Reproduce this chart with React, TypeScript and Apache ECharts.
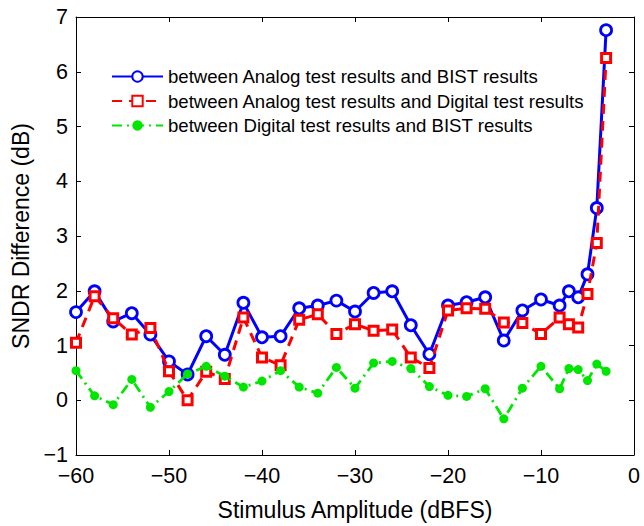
import React, { useEffect, useRef } from 'react';
import * as echarts from 'echarts';

const xValues = [-60, -58, -56, -54, -52, -50, -48, -46, -44, -42, -40, -38, -36, -34, -32, -30, -28, -26, -24, -22, -20, -18, -16, -14, -12, -10, -8, -7, -6, -5, -4, -3];
const analogVsBist = [1.61, 1.99, 1.44, 1.59, 1.20, 0.71, 0.47, 1.17, 0.83, 1.78, 1.15, 1.17, 1.68, 1.73, 1.82, 1.62, 1.96, 1.99, 1.37, 0.84, 1.73, 1.79, 1.88, 1.09, 1.64, 1.84, 1.73, 1.99, 1.88, 2.30, 3.51, 6.76];
const analogVsDigital = [1.05, 1.90, 1.50, 1.20, 1.32, 0.53, 0.00, 0.52, 0.39, 1.51, 0.78, 0.64, 1.47, 1.57, 1.21, 1.39, 1.27, 1.29, 0.78, 0.59, 1.64, 1.68, 1.67, 1.42, 1.41, 1.21, 1.51, 1.39, 1.33, 1.94, 2.87, 6.25];
const digitalVsBist = [0.54, 0.08, -0.08, 0.38, -0.13, 0.16, 0.48, 0.62, 0.44, 0.24, 0.35, 0.54, 0.24, 0.13, 0.60, 0.22, 0.68, 0.71, 0.58, 0.25, 0.09, 0.07, 0.21, -0.34, 0.22, 0.62, 0.21, 0.58, 0.56, 0.36, 0.66, 0.53];
const seriesNames = [
  'between Analog test results and BIST results',
  'between Analog test results and Digital test results',
  'between Digital test results and BIST results',
];
const xTitle = 'Stimulus Amplitude (dBFS)';
const yTitle = 'SNDR Difference (dB)';

const FONT = 'Liberation Sans, Arial, Helvetica, sans-serif';
const minus = (v: number) => String(v).replace('-', '\u2212');

export default function App() {
  const ref = useRef<HTMLDivElement>(null);
  useEffect(() => {
    if (!ref.current) return;
    const chart = echarts.init(ref.current, null, { renderer: 'svg' });
    const pair = (ys: number[]) => xValues.map((x, i) => [x, ys[i]]);
    const axisCommon = {
      axisLine: { show: true, onZero: false, lineStyle: { color: '#000', width: 1 } },
      axisTick: { show: true, inside: true, length: 5, lineStyle: { color: '#000' } },
      splitLine: { show: false },
    };
    chart.setOption({
      animation: false,
      backgroundColor: '#fff',
      grid: { left: 76, right: 10, top: 17, bottom: 69, show: false },
      legend: {
        orient: 'vertical',
        left: 111,
        top: 67,
        padding: 0,
        itemWidth: 51,
        itemHeight: 13,
        itemGap: 5.5,
        textStyle: { fontFamily: FONT, fontSize: 18.6, color: '#000' },
        data: seriesNames,
      },
      xAxis: [
        {
          type: 'value', min: -60, max: 0, interval: 10,
          ...axisCommon,
          axisLabel: { fontFamily: FONT, fontSize: 21.5, color: '#000', margin: 10, formatter: minus },
          name: xTitle, nameLocation: 'middle', nameGap: 43,
          nameTextStyle: { fontFamily: FONT, fontSize: 23, color: '#000' },
        },
        {
          type: 'value', min: -60, max: 0, interval: 10, position: 'top',
          ...axisCommon, axisLabel: { show: false },
        },
      ],
      yAxis: [
        {
          type: 'value', min: -1, max: 7, interval: 1,
          ...axisCommon,
          axisLabel: { fontFamily: FONT, fontSize: 21.5, color: '#000', margin: 8, formatter: minus },
          name: yTitle, nameLocation: 'middle', nameGap: 40,
          nameTextStyle: { fontFamily: FONT, fontSize: 23, color: '#000' },
        },
        {
          type: 'value', min: -1, max: 7, interval: 1, position: 'right',
          ...axisCommon, axisLabel: { show: false },
        },
      ],
      series: [
        {
          name: seriesNames[0], type: 'line', data: pair(analogVsBist),
          symbol: 'circle', symbolSize: 11,
          lineStyle: { color: '#0000ff', width: 3 },
          itemStyle: { color: '#ffffff', borderColor: '#0000ff', borderWidth: 2.8 },
          z: 2,
        },
        {
          name: seriesNames[1], type: 'line', data: pair(analogVsDigital),
          symbol: 'rect', symbolSize: 9,
          lineStyle: { color: '#ff0000', width: 3, type: [10, 7] },
          itemStyle: { color: '#ffffff', borderColor: '#ff0000', borderWidth: 3 },
          z: 3,
        },
        {
          name: seriesNames[2], type: 'line', data: pair(digitalVsBist),
          symbol: 'circle', symbolSize: 9,
          lineStyle: { color: '#00e600', width: 2.8, type: [10, 5, 2, 5] },
          itemStyle: { color: '#00e600', borderColor: '#00e600', borderWidth: 0 },
          z: 4,
        },
      ],
    });
    return () => chart.dispose();
  }, []);
  return <div ref={ref} style={{ position: 'fixed', left: 0, top: 0, width: 644, height: 526 }} />;
}
